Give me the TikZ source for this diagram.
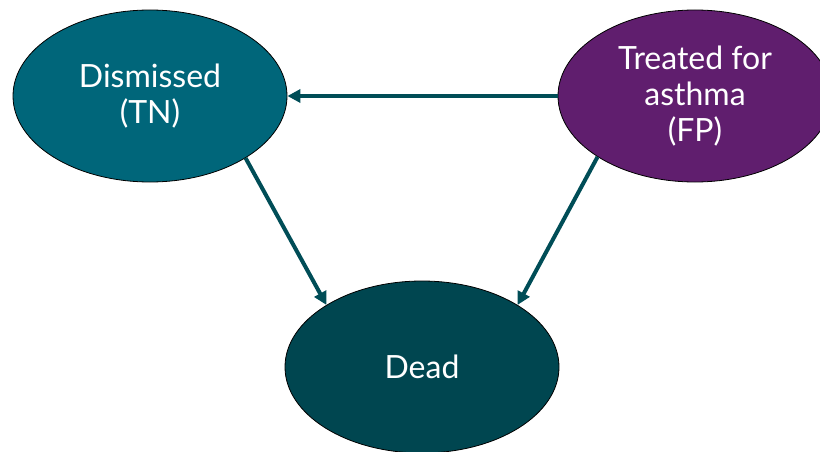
\documentclass[tikz,border=0pt]{standalone}
\usepackage{fontspec}
\setmainfont{Lato}
\usetikzlibrary{arrows.meta, shapes.geometric}
\definecolor{dismteal}{RGB}{0,102,122}
\definecolor{deadteal}{RGB}{0,70,80}
\definecolor{treatpurple}{RGB}{96,30,110}
\definecolor{arrowteal}{RGB}{0,77,87}
\begin{document}
\begin{tikzpicture}[x=1pt, y=-1pt,
		zustand/.style={ellipse, draw=black, line width=0.8pt, minimum width=274pt, minimum height=172pt, inner sep=0pt, text=white, align=center, font=\fontsize{32}{36}\selectfont},
		pfeil/.style={draw=arrowteal, line width=4pt, -{Triangle[length=13pt, width=13pt]}}]
		\useasboundingbox (0, 0) rectangle (820, 452);
		% Zustaende
		\begin{scope}
			\node [zustand, fill=dismteal] (dis) at (150, 96) {Dismissed\\(TN)};
			\node [zustand, fill=treatpurple] (trt) at (695, 96) {Treated for\\asthma\\(FP)};
			\node [zustand, fill=deadteal] (dead) at (422, 367) {Dead};
		\end{scope}
		% Pfeile
		\draw [pfeil] (trt.west) -- (dis.east);
		\draw [pfeil] (dis.-33) -- (dead.147);
		\draw [pfeil] (trt.212) -- (dead.33);
	\end{tikzpicture}
\end{document}
